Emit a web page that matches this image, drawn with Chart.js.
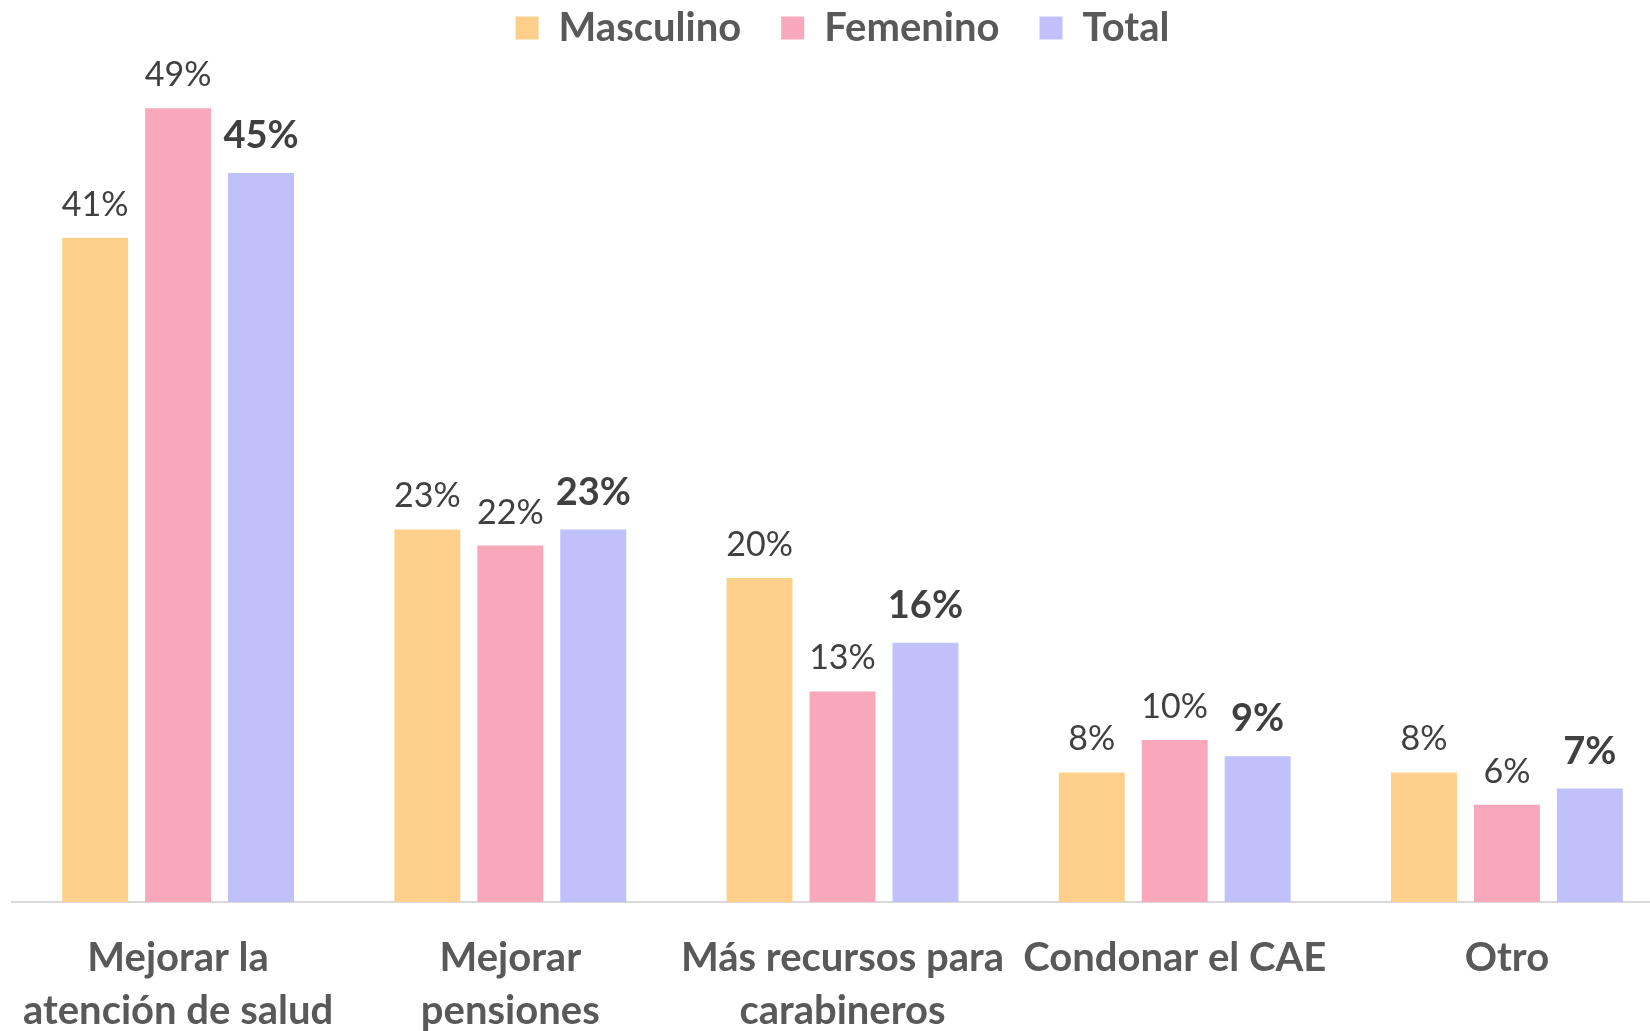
<!DOCTYPE html>
<html>
<head>
<meta charset="utf-8">
<script src="https://cdn.jsdelivr.net/npm/chart.js@4.4.0/dist/chart.umd.min.js"></script>
<style>
  html, body { margin: 0; padding: 0; background: #ffffff; overflow: hidden; }
  #wrap { position: relative; width: 1673px; height: 1031px; }
</style>
</head>
<body>
<div id="wrap"><canvas id="c"></canvas></div>
<script>
const categories = [
  ["Mejorar la", "atención de salud"],
  ["Mejorar", "pensiones"],
  ["Más recursos para", "carabineros"],
  ["Condonar el CAE"],
  ["Otro"]
];
const seriesNames = ["Masculino", "Femenino", "Total"];
const masculino = [41, 23, 20, 8, 8];
const femenino = [49, 22, 13, 10, 6];
const total = [45, 23, 16, 9, 7];
const colors = ["#FCD08A", "#F8A8BA", "#C0C0FA"];
const boldSeries = [false, false, true];

const FONT = "Lato, 'Open Sans', sans-serif";

const labelPlugin = {
  id: "valueLabels",
  afterDatasetsDraw(chart) {
    const ctx = chart.ctx;
    chart.data.datasets.forEach((ds, di) => {
      const meta = chart.getDatasetMeta(di);
      const bold = boldSeries[di];
      ctx.save();
      ctx.font = (bold ? "bold 38px " : "34px ") + FONT;
      ctx.fillStyle = "#404040";
      ctx.textAlign = "center";
      ctx.textBaseline = "middle";
      meta.data.forEach((bar, i) => {
        ctx.fillText(ds.data[i] + "%", bar.x, bar.y - (bold ? 37 : 33));
      });
      ctx.restore();
    });
  }
};

new Chart(document.getElementById("c"), {
  type: "bar",
  data: {
    labels: categories,
    datasets: [
      { label: seriesNames[0], data: masculino, backgroundColor: colors[0] },
      { label: seriesNames[1], data: femenino, backgroundColor: colors[1] },
      { label: seriesNames[2], data: total, backgroundColor: colors[2] }
    ]
  },
  options: {
    responsive: true,
    maintainAspectRatio: false,
    animation: false,
    layout: { padding: { left: 12, right: 0, top: -32, bottom: 0 } },
    datasets: {
      bar: { categoryPercentage: 0.749, barPercentage: 0.795 }
    },
    plugins: {
      legend: {
        position: "top",
        labels: {
          boxWidth: 23,
          boxHeight: 23,
          padding: 40,
          color: "#595959",
          font: { family: FONT, size: 40, weight: "bold" }
        }
      },
      tooltip: { enabled: false }
    },
    scales: {
      x: {
        grid: { display: false, drawTicks: false },
        border: { display: true, color: "#D9D9D9", width: 2 },
        ticks: {
          color: "#595959",
          padding: 30,
          maxRotation: 0,
          autoSkip: false,
          font: { family: FONT, size: 40, weight: "bold", lineHeight: 1.31 }
        },
        afterFit(scale) {
          scale.height = 129;
          scale.paddingLeft = 0;
          scale.paddingRight = 0;
        }
      },
      y: {
        display: false,
        min: 0,
        max: 52.1
      }
    }
  },
  plugins: [labelPlugin]
});
</script>
</body>
</html>
